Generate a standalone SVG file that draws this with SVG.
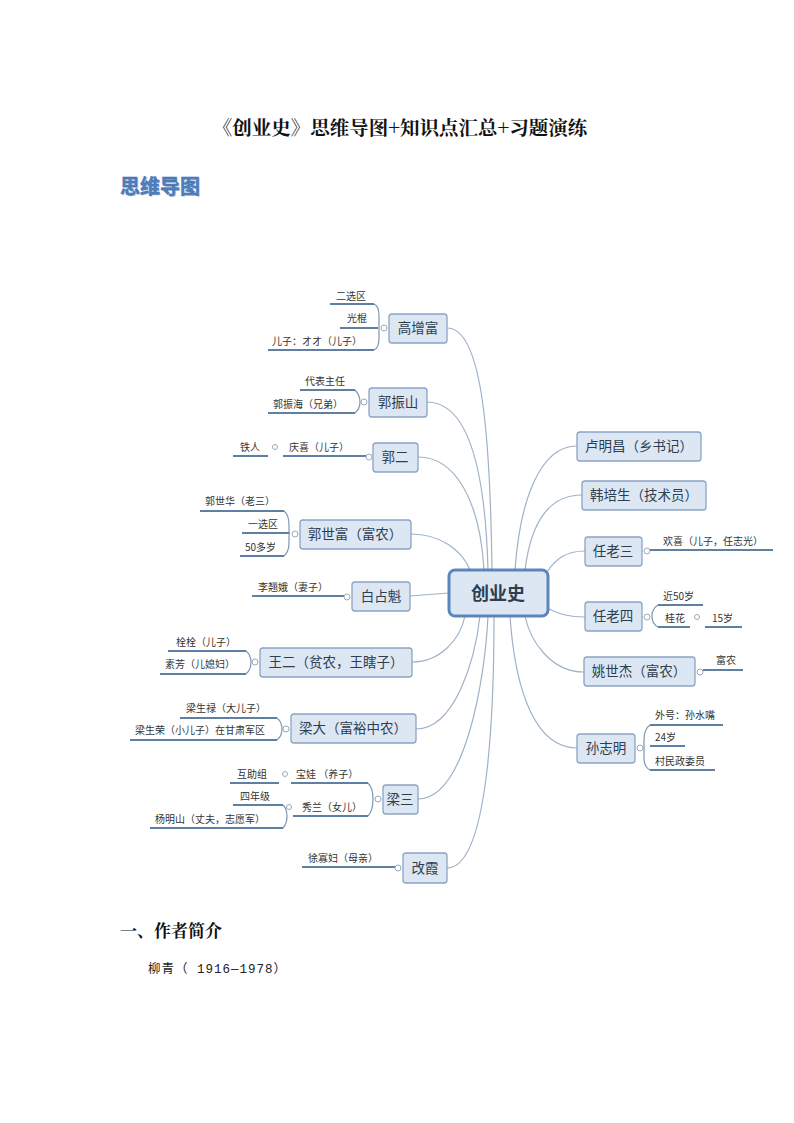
<svg xmlns="http://www.w3.org/2000/svg" width="794" height="1123" viewBox="0 0 794 1123">
<style>
.bg{fill:#fff}
.n rect{fill:#dde7f3;stroke:#8aa4c4;stroke-width:1.3}
.n text{font-family:"Noto Sans CJK SC",sans-serif;font-size:13.5px;fill:#2c3e50;text-anchor:middle}
.c{fill:none;stroke:#9fb2c7;stroke-width:1.2}
.u{stroke:#5f7fa3;stroke-width:2;fill:none}
.b{stroke:#7d96b3;stroke-width:1.2;fill:none}
.d{fill:#fff;stroke:#9aaabb;stroke-width:1}
.l{font-family:"Noto Sans CJK SC",sans-serif;font-size:10px;fill:#333}
.h{font-family:"Noto Serif CJK SC","Noto Sans CJK SC",serif;font-weight:bold;fill:#111}
</style>
<rect class="bg" width="794" height="1123"/>
<text class="h" x="400" y="135" font-size="19.5" text-anchor="middle">《创业史》思维导图+知识点汇总+习题演练</text>
<text x="121" y="195" font-family="Noto Sans CJK SC,sans-serif" font-size="20" font-weight="bold" fill="#c9d6e6">思维导图</text>
<text x="120" y="194" font-family="Noto Sans CJK SC,sans-serif" font-size="20" font-weight="bold" fill="#4f7fbf" stroke="#3a6aa8" stroke-width="0.4">思维导图</text>
<text class="h" x="120" y="937" font-size="17">一、作者简介</text>
<text x="148" y="973" font-family="Liberation Mono,Noto Sans CJK SC,monospace" font-size="12.5" fill="#222" letter-spacing="1">柳青（ 1916—1978）</text>

<g id="connectors">
<path class="c" d="M447,328 C480,328 490,420 492,570"/>
<path class="c" d="M427,402 C465,402 485,460 488,570"/>
<path class="c" d="M418,457 C455,457 480,500 484,570"/>
<path class="c" d="M411,534 C440,534 462,550 470,570"/>
<path class="c" d="M410,596 L449,593"/>
<path class="c" d="M412,662 C440,662 460,640 465,616"/>
<path class="c" d="M416,729 C455,729 475,660 480,616"/>
<path class="c" d="M418,799 C465,799 485,680 488,616"/>
<path class="c" d="M447,868 C490,868 494,700 494,616"/>
<path class="c" d="M577,446 C540,446 520,500 515,570"/>
<path class="c" d="M582,495 C545,495 530,530 525,570"/>
<path class="c" d="M585,551 C565,551 555,560 547,572"/>
<path class="c" d="M585,617 C565,617 555,612 547,608"/>
<path class="c" d="M584,672 C550,672 530,640 525,616"/>
<path class="c" d="M577,748 C535,748 515,690 510,616"/>
</g>

<g id="center"><rect x="449" y="570" width="99" height="46" rx="6" fill="#dde7f3" stroke="#5a86bb" stroke-width="3"/><text x="498" y="600" text-anchor="middle" font-family="Noto Sans CJK SC,sans-serif" font-size="18" font-weight="bold" fill="#2c3e50">创业史</text></g>

<g id="gaozengfu" class="n"><rect x="389" y="314" width="58" height="29" rx="3"/><text x="418" y="333">高增富</text></g>
<g id="gaozengfu-leaves">
<path class="u" d="M330,304 H374 M340,328 H378 M268,350 H374"/>
<path class="b" d="M374,304 Q379,306 379,316 V338 Q379,348 374,350"/>
<circle class="d" cx="384" cy="328" r="3"/>
<text class="l" x="336" y="300">二选区</text><text class="l" x="347" y="322">光棍</text><text class="l" x="272" y="345">儿子：オオ（儿子）</text>
</g>

<g id="guozhenshan" class="n"><rect x="369" y="388" width="58" height="29" rx="3"/><text x="398" y="407">郭振山</text></g>
<g id="guozhenshan-leaves">
<path class="u" d="M300,390 H355 M268,413 H355"/>
<path class="b" d="M355,390 Q360,395 360,402 Q360,409 355,413"/>
<circle class="d" cx="364" cy="402" r="3"/>
<text class="l" x="305" y="385">代表主任</text><text class="l" x="273" y="408">郭振海（兄弟）</text>
</g>

<g id="guoer" class="n"><rect x="373" y="443" width="45" height="29" rx="3"/><text x="395" y="462">郭二</text></g>
<g id="guoer-leaves">
<path class="u" d="M233,456 H268 M283,456 H366"/>
<circle class="d" cx="275" cy="447" r="2.5"/><circle class="d" cx="369" cy="457" r="3"/>
<text class="l" x="240" y="451">铁人</text><text class="l" x="289" y="451">庆喜（儿子）</text>
</g>

<g id="guoshifu" class="n"><rect x="300" y="520" width="111" height="29" rx="3"/><text x="355" y="539">郭世富（富农）</text></g>
<g id="guoshifu-leaves">
<path class="u" d="M200,511 H284 M242,533 H290 M240,556 H284"/>
<path class="b" d="M284,511 Q289,515 289,525 V543 Q289,552 284,556"/>
<circle class="d" cx="295" cy="534" r="3"/>
<text class="l" x="205" y="505">郭世华（老三）</text><text class="l" x="248" y="528">一选区</text><text class="l" x="245" y="551">50多岁</text>
</g>

<g id="baizhankui" class="n"><rect x="352" y="582" width="58" height="29" rx="3"/><text x="381" y="601">白占魁</text></g>
<g id="baizhankui-leaves">
<path class="u" d="M252,596 H344"/><circle class="d" cx="347" cy="597" r="3"/>
<text class="l" x="258" y="591">李翘娥（妻子）</text>
</g>

<g id="waner" class="n"><rect x="260" y="648" width="152" height="29" rx="3"/><text x="336" y="667">王二（贫农，王瞎子）</text></g>
<g id="waner-leaves">
<path class="u" d="M168,651 H246 M160,674 H246"/>
<path class="b" d="M246,651 Q251,655 251,662 Q251,670 246,674"/>
<circle class="d" cx="255" cy="662" r="3"/>
<text class="l" x="176" y="646">栓栓（儿子）</text><text class="l" x="165" y="668">素芳（儿媳妇）</text>
</g>

<g id="liangda" class="n"><rect x="291" y="714" width="125" height="29" rx="3"/><text x="353" y="733">梁大（富裕中农）</text></g>
<g id="liangda-leaves">
<path class="u" d="M180,718 H277 M130,740 H277"/>
<path class="b" d="M277,718 Q282,722 282,729 Q282,736 277,740"/>
<circle class="d" cx="286" cy="729" r="3"/>
<text class="l" x="186" y="712">梁生禄（大儿子）</text><text class="l" x="135" y="734">梁生荣（小儿子）在甘肃军区</text>
</g>

<g id="liangsan" class="n"><rect x="383" y="785" width="35" height="29" rx="3"/><text x="400" y="804">梁三</text></g>
<g id="liangsan-leaves">
<path class="u" d="M230,783 H279 M291,783 H368 M233,805 H283 M293,816 H368 M150,828 H283"/>
<path class="b" d="M368,783 Q373,788 373,799 Q373,811 368,816"/>
<path class="b" d="M283,805 Q287,809 287,816 Q287,824 283,828"/>
<circle class="d" cx="285" cy="774" r="2.5"/><circle class="d" cx="289" cy="807" r="2.5"/><circle class="d" cx="378" cy="799" r="3"/>
<text class="l" x="237" y="778">互助组</text><text class="l" x="296" y="778">宝娃 （养子）</text>
<text class="l" x="240" y="800">四年级</text><text class="l" x="302" y="811">秀兰（女儿）</text>
<text class="l" x="155" y="823">杨明山（丈夫，志愿军）</text>
</g>

<g id="gaixia" class="n"><rect x="403" y="853" width="44" height="30" rx="3"/><text x="425" y="873">改霞</text></g>
<g id="gaixia-leaves">
<path class="u" d="M302,867 H395"/><circle class="d" cx="398" cy="868" r="3"/>
<text class="l" x="308" y="862">徐寡妇（母亲）</text>
</g>

<g id="lumingchang" class="n"><rect x="577" y="432" width="124" height="29" rx="3"/><text x="639" y="451">卢明昌（乡书记）</text></g>
<g id="hanpeisheng" class="n"><rect x="582" y="481" width="124" height="29" rx="3"/><text x="644" y="500">韩培生（技术员）</text></g>

<g id="renlaosan" class="n"><rect x="585" y="537" width="57" height="29" rx="3"/><text x="613" y="556">任老三</text></g>
<g id="renlaosan-leaves">
<path class="u" d="M650,550 H773"/><circle class="d" cx="647" cy="551" r="3"/>
<text class="l" x="663" y="545">欢喜（儿子，任志光）</text>
</g>

<g id="renlaosi" class="n"><rect x="585" y="602" width="57" height="29" rx="3"/><text x="613" y="621">任老四</text></g>
<g id="renlaosi-leaves">
<path class="u" d="M658,605 H703 M658,627 H690 M705,627 H742"/>
<path class="b" d="M658,605 Q652,609 652,616 Q652,624 658,627"/>
<circle class="d" cx="647" cy="617" r="3"/><circle class="d" cx="697" cy="617" r="2.5"/>
<text class="l" x="663" y="600">近50岁</text><text class="l" x="665" y="622">桂花</text><text class="l" x="712" y="622">15岁</text>
</g>

<g id="yaoshijie" class="n"><rect x="584" y="657" width="111" height="29" rx="3"/><text x="639" y="676">姚世杰（富农）</text></g>
<g id="yaoshijie-leaves">
<path class="u" d="M703,670 H743"/><circle class="d" cx="700" cy="672" r="3"/>
<text class="l" x="716" y="664">富农</text>
</g>

<g id="sunzhiming" class="n"><rect x="577" y="734" width="58" height="29" rx="3"/><text x="606" y="753">孙志明</text></g>
<g id="sunzhiming-leaves">
<path class="u" d="M650,725 H723 M650,746 H685 M650,770 H715"/>
<path class="b" d="M650,725 Q644,729 644,740 V758 Q644,767 650,770"/>
<circle class="d" cx="640" cy="748" r="3"/>
<text class="l" x="655" y="719">外号：孙水嘴</text><text class="l" x="655" y="741">24岁</text><text class="l" x="655" y="765">村民政委员</text>
</g>
</svg>
